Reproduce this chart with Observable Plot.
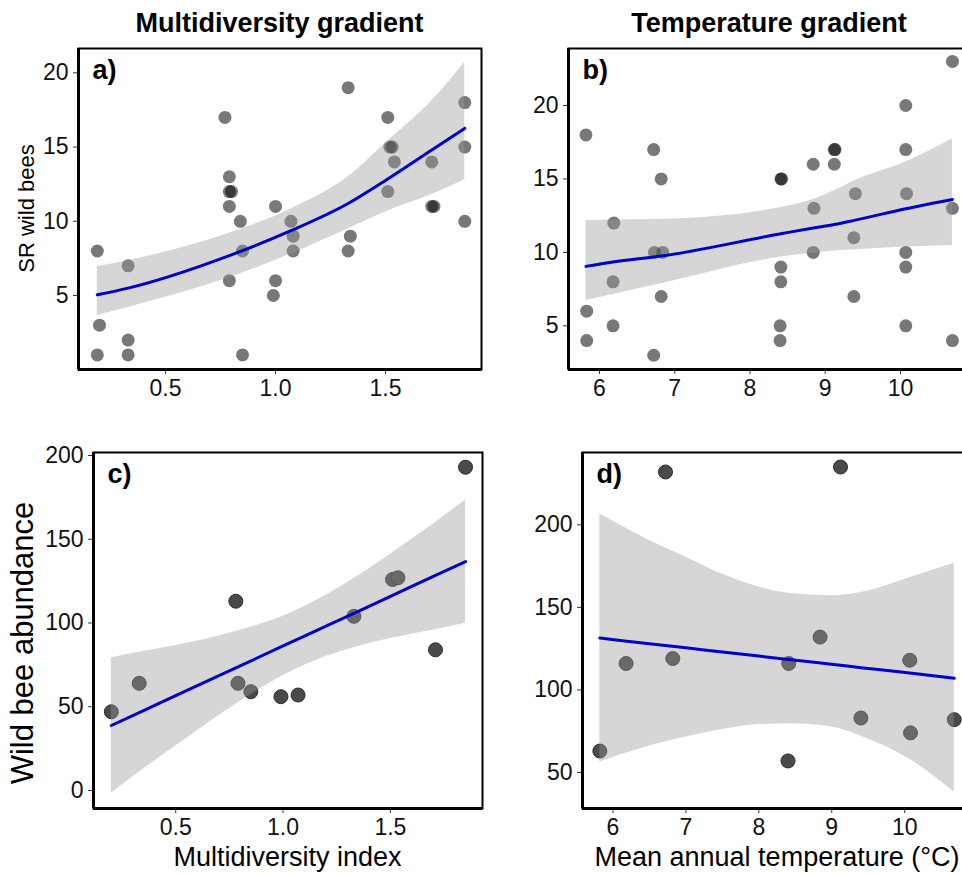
<!DOCTYPE html>
<html>
<head>
<meta charset="utf-8">
<script src="https://cdn.jsdelivr.net/npm/d3@7"></script>
<script src="https://cdn.jsdelivr.net/npm/@observablehq/plot@0.6"></script>
<style>
  html, body { margin: 0; padding: 0; background: #fff; overflow: hidden; }
  #root { position: relative; width: 962px; height: 875px; overflow: hidden; background: #fff; }
  #root > svg { position: absolute; left: 0; top: 0; }
</style>
</head>
<body>
<div id="root"></div>
<script>
// ---------- Panel a: species richness vs multidiversity ----------
const aX = [0.19,0.20,0.19,0.33,0.33,0.33,0.77,0.79,0.79,0.80,0.79,0.79,0.84,0.85,0.85,1.00,1.00,0.99,1.07,1.08,1.08,1.33,1.34,1.33,1.51,1.52,1.53,1.54,1.51,1.71,1.71,1.72,1.86,1.86,1.86];
const aY = [8,3,1,7,2,1,17,13,12,12,11,6,10,8,1,11,6,5,10,9,8,19,9,8,17,15,15,14,12,14,11,11,18,15,10];
const aFitX  = [0.19,0.33,0.79,1.07,1.33,1.51,1.71,1.86];
const aFit   = [5.05,5.5,7.69,9.37,11.2,12.85,14.8,16.26];
const aLower = [3.65,4.2,6.2,7.8,9.5,10.7,11.8,12.8];
const aUpper = [6.95,7.35,9.2,10.83,13.0,15.4,18.1,20.7];

// ---------- Panel b: species richness vs temperature ----------
const bX = [5.82,5.83,5.83,6.19,6.18,6.18,6.72,6.72,6.73,6.84,6.82,6.82,8.41,8.42,8.41,8.41,8.40,8.40,8.84,8.85,8.84,9.12,9.13,9.12,9.40,9.38,9.38,10.07,10.07,10.08,10.07,10.07,10.07,10.69,10.69,10.69];
const bY = [18,6,4,12,8,5,17,3,10,10,15,7,15,15,9,8,5,4,16,13,10,17,17,16,14,11,7,20,17,14,10,9,5,23,13,4];
const bFitX  = [5.82,6.18,6.82,8.41,8.84,9.12,9.40,10.07,10.69];
const bFit   = [9.05,9.35,9.75,11.27,11.66,11.9,12.2,12.97,13.6];
const bLower = [6.73,7.14,7.87,9.68,9.95,10.1,10.18,10.36,10.47];
const bUpper = [12.18,12.2,12.25,13.06,13.6,14.2,14.9,16.15,17.73];

// ---------- Panel c: abundance vs multidiversity ----------
const cX = [0.20,0.33,0.78,0.79,0.85,0.99,1.07,1.33,1.51,1.535,1.71,1.85];
const cY = [47,64,113,64,59,56,57,104,126,127,84,193];
const cFitX  = [0.2,0.33,0.5,0.78,1.0,1.2,1.33,1.51,1.71,1.85];
const cFit   = [38.8,46.5,56.6,73.2,86.3,98.1,105.8,116.5,128.4,136.7];
const cLower = [-1.6,11,26.5,51.5,68.5,80,85.3,91,96,99.9];
const cUpper = [79.2,82.5,86.5,95,104,116.5,126.5,142,160,173.5];

// ---------- Panel d: abundance vs temperature ----------
const dX = [5.82,6.18,6.72,6.82,8.40,8.41,8.84,9.12,9.40,10.07,10.08,10.68];
const dY = [63,116,232,119,57,116,132,235,83,118,74,82];
const dFitX  = [5.82,6.5,7.0,7.5,8.0,8.4,9.0,9.4,10.07,10.68];
const dFit   = [131.4,128,125.5,123,120.5,118.5,115.5,113.5,110.2,107.1];
const dLower = [56.3,66,71.5,76,79,79.5,77.5,72,58,38.1];
const dUpper = [206.7,190.5,180.4,170,162.3,158.5,157,159,168,176.8];

// ---------- Texts and ticks ----------
const columnTitles = ["Multidiversity gradient", "Temperature gradient"];
const xTitles = ["Multidiversity index", "Mean annual temperature (°C)"];
const yTitles = ["SR wild bees", "Wild bee abundance"];
const panelTags = ["a)", "b)", "c)", "d)"];
const multiTicks = [0.5, 1.0, 1.5];
const tempTicks = [6, 7, 8, 9, 10];
const srTicks = [5, 10, 15, 20];
const abundTicksC = [0, 50, 100, 150, 200];
const abundTicksD = [50, 100, 150, 200];

const W = 990, H = 875;
const FONT = "'Liberation Sans', Arial, Helvetica, sans-serif";

function zipPts(xs, ys) { return xs.map((x, i) => ({x, y: ys[i]})); }
function zipFit(xs, f, lo, hi) { return xs.map((x, i) => ({x, fit: f[i], lo: lo[i], hi: hi[i]})); }

function panel({box, xDomain, yDomain, xTicks, yTicks, xFmt, pts, fit, tag, dark}) {
  const [L, T, R, B] = box;
  const dotOpts = dark
    ? {x: "x", y: "y", r: 7, fill: "#4a4a4a", stroke: "#2e2e2e", strokeWidth: 1}
    : {x: "x", y: "y", r: 6.5, fill: "black", fillOpacity: 0.53, stroke: "none"};
  return Plot.plot({
    width: W, height: H,
    marginLeft: L, marginTop: T, marginRight: W - R, marginBottom: H - B,
    style: {background: "transparent", maxWidth: "none", overflow: "visible",
            fontFamily: FONT, fontSize: "23px", color: "#111"},
    x: {domain: xDomain},
    y: {domain: yDomain},
    marks: [
      Plot.dot(pts, dotOpts),
      Plot.areaY(fit, {x: "x", y1: "lo", y2: "hi", fill: "#999999", fillOpacity: 0.4, curve: "monotone-x"}),
      Plot.line(fit, {x: "x", y: "fit", stroke: "#0000cc", strokeWidth: 3, curve: "monotone-x"}),
      Plot.axisX({ticks: xTicks, tickFormat: xFmt, tickSize: 5, tickPadding: 5, label: null, stroke: "#333"}),
      Plot.axisY({ticks: yTicks, tickSize: 5, tickPadding: 5, label: null, stroke: "#333"}),
      Plot.frame({stroke: "black", strokeWidth: 2}),
      Plot.ruleX([xDomain[0]], {stroke: "black", strokeWidth: 3}),
      Plot.ruleY([yDomain[0]], {stroke: "black", strokeWidth: 3}),
      Plot.text([tag], {frameAnchor: "top-left", dx: 14, dy: 11, lineAnchor: "top",
                        fontWeight: "bold", fontSize: 27, fill: "black", textAnchor: "start"})
    ]
  });
}

const root = document.getElementById("root");
const f1 = d3.format(".1f");

root.appendChild(panel({box: [78, 48, 481, 369], xDomain: [0.1045, 1.936], yDomain: [0.017, 21.64],
  xTicks: multiTicks, yTicks: srTicks, xFmt: f1, pts: zipPts(aX, aY),
  fit: zipFit(aFitX, aFit, aLower, aUpper), tag: panelTags[0], dark: false}));
root.appendChild(panel({box: [568, 48, 970, 369], xDomain: [5.588, 10.93], yDomain: [2.03, 23.88],
  xTicks: tempTicks, yTicks: srTicks, xFmt: d3.format("d"), pts: zipPts(bX, bY),
  fit: zipFit(bFitX, bFit, bLower, bUpper), tag: panelTags[1], dark: false}));
root.appendChild(panel({box: [93, 452, 482, 808], xDomain: [0.117, 1.929], yDomain: [-10.75, 201.8],
  xTicks: multiTicks, yTicks: abundTicksC, xFmt: f1, pts: zipPts(cX, cY),
  fit: zipFit(cFitX, cFit, cLower, cUpper), tag: panelTags[2], dark: true}));
root.appendChild(panel({box: [582, 452, 972, 808], xDomain: [5.582, 10.93], yDomain: [28.2, 243.8],
  xTicks: tempTicks, yTicks: abundTicksD, xFmt: d3.format("d"), pts: zipPts(dX, dY),
  fit: zipFit(dFitX, dFit, dLower, dUpper), tag: panelTags[3], dark: true}));

// Overlay with column titles and axis titles
const ov = d3.create("svg").attr("width", 962).attr("height", 875)
  .attr("font-family", FONT).attr("fill", "black");
ov.append("text").attr("x", 279.5).attr("y", 32).attr("text-anchor", "middle")
  .attr("font-size", 27).attr("font-weight", "bold").text(columnTitles[0]);
ov.append("text").attr("x", 769).attr("y", 32).attr("text-anchor", "middle")
  .attr("font-size", 27).attr("font-weight", "bold").text(columnTitles[1]);
ov.append("text").attr("x", 287.5).attr("y", 866).attr("text-anchor", "middle")
  .attr("font-size", 27).text(xTitles[0]);
ov.append("text").attr("x", 777).attr("y", 866).attr("text-anchor", "middle")
  .attr("font-size", 27).text(xTitles[1]);
ov.append("text").attr("transform", "translate(34,208.5) rotate(-90)").attr("text-anchor", "middle")
  .attr("font-size", 22).text(yTitles[0]);
ov.append("text").attr("transform", "translate(33,643) rotate(-90)").attr("text-anchor", "middle")
  .attr("font-size", 31).text(yTitles[1]);
root.appendChild(ov.node());
</script>
</body>
</html>
